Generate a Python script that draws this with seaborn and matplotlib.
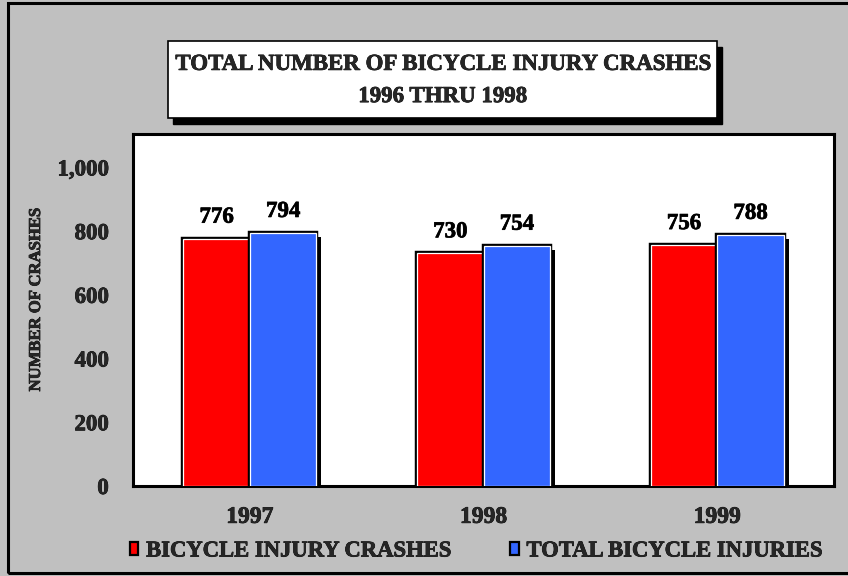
import matplotlib
matplotlib.use("Agg")
import matplotlib.pyplot as plt
import matplotlib.patheffects as pe
from matplotlib.patches import Rectangle
import seaborn as sns
import pandas as pd

years = ["1997", "1998", "1999"]
crashes = [776, 730, 756]
injuries = [794, 754, 788]
series_names = ["BICYCLE INJURY CRASHES", "TOTAL BICYCLE INJURIES"]
y_ticks = [0, 200, 400, 600, 800, 1000]
title_lines = ["TOTAL NUMBER OF BICYCLE INJURY CRASHES", "1996 THRU 1998"]
y_title = "NUMBER OF CRASHES"

df = pd.DataFrame({
    "year": years * 2,
    "count": crashes + injuries,
    "series": [series_names[0]] * 3 + [series_names[1]] * 3,
})

sns.set_theme(style="white")
plt.rcParams["font.family"] = ["Liberation Serif", "DejaVu Serif"]
plt.rcParams["font.weight"] = "bold"

# slightly heavier strokes for all lettering
heavy = [pe.withStroke(linewidth=0.5, foreground="black")]

W, H = 848, 576
fig = plt.figure(figsize=(W / 100, H / 100), dpi=100)
fig.patch.set_facecolor("#C0C0C0")

# outer frame (runs off the right edge)
fig.patches.append(Rectangle((8 / W, 3 / H), 860 / W, 570 / H, transform=fig.transFigure,
                             fill=False, edgecolor="black", linewidth=2.2))

ax = fig.add_axes([133 / W, (H - 486) / H, 701 / W, 352 / H])
ax.set_facecolor("white")

palette = {series_names[0]: "#FF0000", series_names[1]: "#3366FF"}
sns.barplot(data=df, x="year", y="count", hue="series", palette=palette,
            width=0.57, saturation=1, ax=ax, legend=True, zorder=3)

bar_fx = [pe.SimplePatchShadow(offset=(3.6, -2.9), shadow_rgbFace="black", alpha=1.0),
          pe.Stroke(linewidth=3.2, foreground="black"), pe.Normal()]
for cont in ax.containers:
    for bar in cont:
        bar.set_edgecolor("white")
        bar.set_linewidth(0.9)
        bar.set_path_effects(bar_fx)
    for t in ax.bar_label(cont, labels=[f"{v:,.0f}" for v in cont.datavalues], padding=8,
                          fontsize=16.5, fontweight="bold", color="black"):
        t.set_path_effects(heavy)

ax.set_ylim(0, 1105)
ax.set_xlim(-0.5, 2.5)
ax.set_yticks(y_ticks)
ax.set_yticklabels([f"{v:,}" for v in y_ticks], fontsize=16.5, fontweight="bold")
ax.set_xticks(range(len(years)))
ax.set_xticklabels(years, fontsize=17, fontweight="bold")
ax.tick_params(axis="y", length=0, pad=17.5)
ax.tick_params(axis="x", length=0, pad=15)
for t in ax.get_xticklabels() + ax.get_yticklabels():
    t.set_path_effects(heavy)
ax.set_xlabel("")
ax.set_ylabel("")
for sp in ax.spines.values():
    sp.set_visible(True)
    sp.set_color("black")
    sp.set_linewidth(2.2)
ax.grid(False)

fig.text(36 / W, 1 - 300 / H, y_title, rotation=90, ha="center", va="center",
         fontsize=12, fontweight="bold", path_effects=heavy)

# title box with drop shadow
bx0, by0, bw, bh = 168, 41, 549, 77
fig.patches.append(Rectangle(((bx0 + 5) / W, 1 - (by0 + bh + 6) / H), bw / W, bh / H,
                             transform=fig.transFigure, facecolor="black", edgecolor="black"))
fig.patches.append(Rectangle((bx0 / W, 1 - (by0 + bh) / H), bw / W, bh / H,
                             transform=fig.transFigure, facecolor="white", edgecolor="black",
                             linewidth=1.2))
fig.text((bx0 + bw / 2) / W, 1 - (by0 + bh / 2 + 1) / H, "\n".join(title_lines),
         ha="center", va="center", fontsize=16.5, fontweight="bold", linespacing=1.7,
         path_effects=heavy)

handles, labels = ax.get_legend_handles_labels()
ax.get_legend().remove()
for h in handles:
    h.set_edgecolor("black")
    h.set_linewidth(1.6)
    h.set_path_effects([])
leg = fig.legend(handles, labels, loc="center", bbox_to_anchor=(476 / W, 1 - 551 / H),
                 ncol=2, frameon=False, handlelength=0.38, handleheight=0.5,
                 handletextpad=0.35, columnspacing=2.6,
                 prop={"weight": "bold", "size": 16.3})
for t in leg.get_texts():
    t.set_path_effects(heavy)

fig.savefig("out.png", dpi=100, facecolor=fig.get_facecolor())
